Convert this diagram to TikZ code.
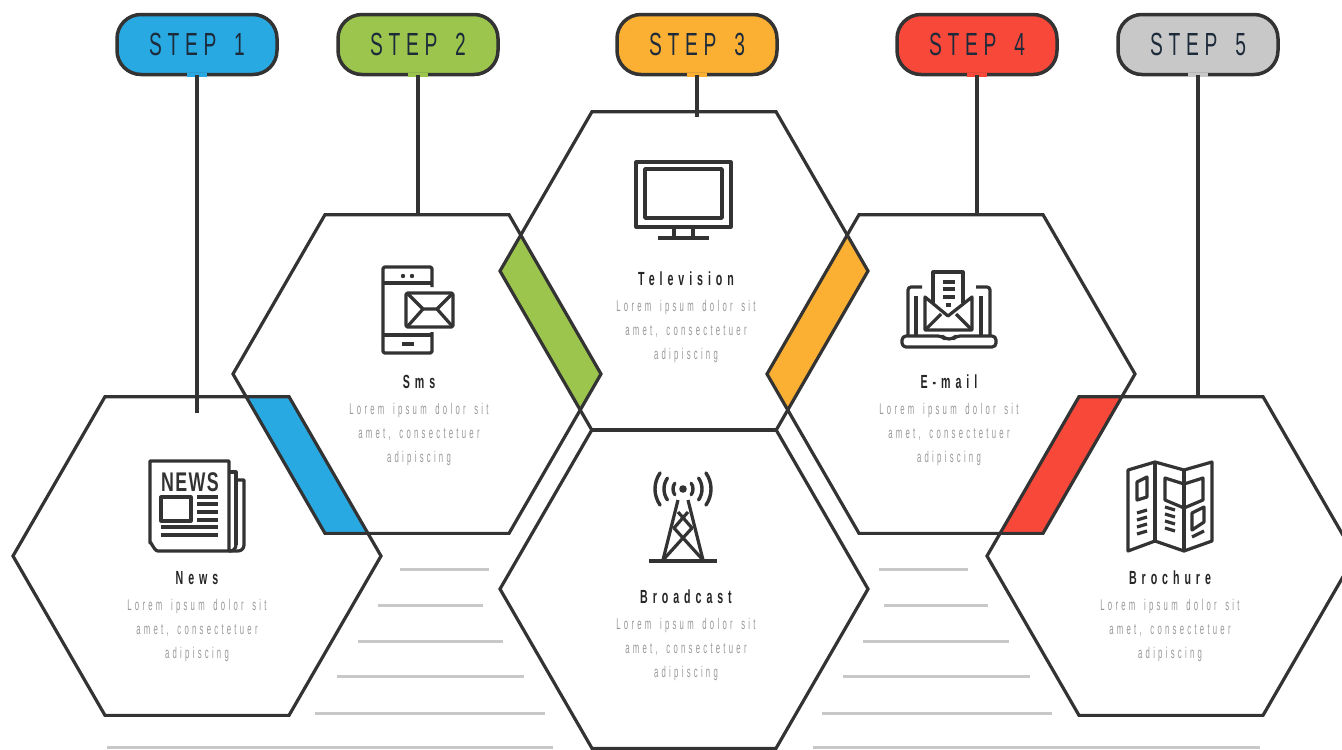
\documentclass[tikz,border=0pt]{standalone}
\usepackage{fontspec}
\usetikzlibrary{shapes.geometric}
\newfontfamily\stepfont[FakeStretch=0.6,LetterSpace=18,WordSpace=1.6]{Liberation Sans}
\newfontfamily\titlefont[FakeStretch=0.56,LetterSpace=26]{Liberation Sans Bold}
\newfontfamily\bodyfont[FakeStretch=0.5,LetterSpace=21,WordSpace=1.6]{Liberation Sans}
\newfontfamily\newsfont[FakeStretch=0.66,LetterSpace=5]{Liberation Sans Bold}
\definecolor{ink}{HTML}{333333}
\definecolor{cblue}{HTML}{29A9E1}
\definecolor{cgreen}{HTML}{9CC54E}
\definecolor{corange}{HTML}{FBB034}
\definecolor{cred}{HTML}{F8483A}
\definecolor{cgray}{HTML}{C8C8C8}
\definecolor{steptext}{HTML}{1C2A3A}
\tikzset{
  hex/.style={regular polygon,regular polygon sides=6,minimum size=368pt,inner sep=0pt,outer sep=0pt},
  hexline/.style={draw=ink,line width=3.2pt,line join=miter},
  pill/.style={draw=ink,line width=3.5pt,rounded corners=24pt,minimum width=160pt,minimum height=60pt,inner sep=0pt,outer sep=0pt,
     font=\stepfont\fontsize{32}{32}\selectfont,text=steptext},
  conn/.style={draw=ink,line width=3.5pt},
  rule/.style={draw=cgray,line width=3pt},
  ttl/.style={font=\titlefont\fontsize{19}{19}\selectfont,text=black!85},
  bod/.style={font=\bodyfont\fontsize{15.5}{15.5}\selectfont,text=black!40},
  ic/.style={draw=ink,line width=3.2pt,line join=round},
}
\newcommand{\hexoutline}[1]{\draw[hexline] (#1.corner 1) -- (#1.corner 2) -- (#1.corner 3) -- (#1.corner 4) -- (#1.corner 5) -- (#1.corner 6) -- cycle;}
\newcommand{\lens}[3]{\begin{scope}\clip (#2.corner 1) -- (#2.corner 2) -- (#2.corner 3) -- (#2.corner 4) -- (#2.corner 5) -- (#2.corner 6) -- cycle;
  \fill[#1] (#3.corner 1) -- (#3.corner 2) -- (#3.corner 3) -- (#3.corner 4) -- (#3.corner 5) -- (#3.corner 6) -- cycle;\end{scope}}
\newcommand{\textblock}[5]{%
  \node[ttl] (#1t) at (#2,#3) {#5};
  \node[bod] (#1a) at (#2,#4+28) {Lorem ipsum dolor sit};
  \node[bod] (#1b) at (#2,#4+52) {amet, consectetuer};
  \node[bod] (#1c) at (#2,#4+76) {adipiscing};}
\begin{document}
\begin{tikzpicture}[x=1pt,y=-1pt]
\clip (0,0) rectangle (1342,750);
\fill[white] (0,0) rectangle (1342,750);
% gray rules
\coordinate (l1a) at (400,569); \coordinate (l1b) at (489,569);
\coordinate (l2a) at (378,605); \coordinate (l2b) at (483,605);
\coordinate (l3a) at (358,641); \coordinate (l3b) at (503,641);
\coordinate (l4a) at (337,676); \coordinate (l4b) at (524,676);
\coordinate (l5a) at (315,713); \coordinate (l5b) at (545,713);
\coordinate (l6a) at (107,747); \coordinate (l6b) at (553,747);
\coordinate (r1a) at (879,569); \coordinate (r1b) at (968,569);
\coordinate (r2a) at (884,605); \coordinate (r2b) at (988,605);
\coordinate (r3a) at (863,641); \coordinate (r3b) at (1009,641);
\coordinate (r4a) at (843,676); \coordinate (r4b) at (1030,676);
\coordinate (r5a) at (822,713); \coordinate (r5b) at (1052,713);
\coordinate (r6a) at (813,747); \coordinate (r6b) at (1260,747);
\foreach \n in {l1,l2,l3,l4,l5,l6,r1,r2,r3,r4,r5,r6} \draw[rule] (\n a) -- (\n b);
% hexagons
\node[hex] (h1) at (197,556) {};
\node[hex] (h2) at (417,374) {};
\node[hex] (h3) at (684,271) {};
\node[hex] (h4) at (684,589) {};
\node[hex] (h5) at (951,374) {};
\node[hex] (h6) at (1171,556) {};
\lens{cblue}{h1}{h2}
\lens{cgreen}{h2}{h3}
\lens{corange}{h3}{h5}
\lens{cred}{h5}{h6}
\foreach \h in {h1,h2,h3,h4,h5,h6} {\hexoutline{\h}}
% pills
\node[pill,fill=cblue] (s1) at (197,44.5) {STEP 1};
\node[pill,fill=cgreen] (s2) at (418,44.5) {STEP 2};
\node[pill,fill=corange] (s3) at (697,44.5) {STEP 3};
\node[pill,fill=cred] (s4) at (977,44.5) {STEP 4};
\node[pill,fill=cgray] (s5) at (1198,44.5) {STEP 5};
% connector ends
\coordinate (e1) at (197,413);
\coordinate (e2) at (418,215);
\coordinate (e3) at (697,117);
\coordinate (e4) at (977,215);
\coordinate (e5) at (1198,397);
\draw[cblue,line width=4pt] ([xshift=-10pt]s1.south) -- ([xshift=10pt]s1.south);
\draw[cgreen,line width=4pt] ([xshift=-10pt]s2.south) -- ([xshift=10pt]s2.south);
\draw[corange,line width=4pt] ([xshift=-10pt]s3.south) -- ([xshift=10pt]s3.south);
\draw[cred,line width=4pt] ([xshift=-10pt]s4.south) -- ([xshift=10pt]s4.south);
\draw[cgray,line width=4pt] ([xshift=-10pt]s5.south) -- ([xshift=10pt]s5.south);
\foreach \i in {1,...,5} \draw[conn] (s\i.south) -- (e\i);
% labels
\textblock{n1}{197}{578}{578}{News}
\textblock{n2}{419}{382}{382}{Sms}
\textblock{n3}{686}{279}{279}{Television}
\textblock{n4}{686}{597}{597}{Broadcast}
\textblock{n5}{949}{382}{382}{E-mail}
\textblock{n6}{1170}{578}{578}{Brochure}
% news icon
\draw[ic] (229,551) -- (158,551) to[out=180,in=90] (150,543) -- (150,461) -- (229,461) -- (229,551);
\draw[ic] (229,472) -- (236,472) -- (236,545);
\draw[ic] (236,480) -- (244,480) -- (244,545) to[out=-90,in=0] (238,551) -- (229,551);
\draw[ic] (229,551) to[out=-10,in=-90] (236,545);
\node[inner sep=0pt,font=\newsfont\fontsize{27}{27}\selectfont,text=ink] (newsword) at (190,482) {NEWS};
\draw[ic] (161,497) rectangle (191,521);
\foreach \y in {497,504,512,520} \draw[ic] (197,\y) -- (218,\y);
\foreach \y in {527,535} \draw[ic] (161,\y) -- (218,\y);
% sms icon
\draw[ic,rounded corners=1.5pt] (432,287) -- (432,267) -- (383,267) -- (383,353) -- (432,353) -- (432,332);
\draw[ic] (383,283) -- (432,283);
\draw[ic] (383,335) -- (432,335);
\fill[ink] (403,276) circle (2.2pt) (412,276) circle (2.2pt);
\draw[ic] (402,344) -- (414,344);
\draw[ic,rounded corners=1.5pt] (406,293) rectangle (453,327);
\draw[ic] (407,293) -- (423,309) -- (437,309) -- (453,293);
\draw[ic] (407,327) -- (423,309) (437,309) -- (453,327);
% tv icon
\draw[ic] (636,162) rectangle (731,227);
\draw[ic,line width=3.8pt] (645,169) rectangle (722,218);
\draw[ic] (674,227) -- (674,238) (693,227) -- (693,238);
\draw[ic] (658,238) -- (709,238);
% tower icon
\fill[ink] (683,489) circle (3.8pt);
\foreach \r in {10,19,28} {
  \draw[ic,line width=3.4pt,line cap=round] (683,489) ++(35:\r) arc[start angle=35,end angle=-35,radius=\r];
}
\foreach \r in {10,19,28} {
  \draw[ic,line width=3.4pt,line cap=round] (683,489) ++(145:\r) arc[start angle=145,end angle=215,radius=\r];
}
\draw[ic] (678,500) -- (663,560) (688,500) -- (703,560);
\draw[ic] (663,560) -- (692,528) -- (678,512) (703,560) -- (674,528) -- (688,512);
\draw[ic] (649,561) -- (717,561);
% email icon
\draw[ic,rounded corners=4pt] (902,336) -- (942,336) -- (945,339) -- (953,339) -- (956,336) -- (996,336) -- (996,347) -- (902,347) -- cycle;
\draw[ic,rounded corners=3pt] (922,287) -- (908,287) -- (908,336);
\draw[ic] (916,296) -- (916,336);
\draw[ic,rounded corners=3pt] (976,287) -- (990,287) -- (990,336);
\draw[ic] (981,296) -- (981,336);
\draw[ic] (933,303) -- (933,272) -- (963,272) -- (963,303);
\foreach \y in {282,289,297} \draw[ic] (943,\y) -- (955,\y);
\draw[ic] (946,305) -- (951,305);
\draw[ic] (925,297) -- (925,330) -- (972,330) -- (972,297) -- (948,316) -- cycle;
\draw[ic] (925,330) -- (941,314) (972,330) -- (956,314);
% brochure icon
\draw[ic] (1128,470) -- (1155,462) -- (1184,470) -- (1212,462) -- (1212,541) -- (1184,551) -- (1155,541) -- (1128,551) -- cycle;
\draw[ic] (1155,462) -- (1155,541) (1184,470) -- (1184,551);
\draw[ic] (1137,482) -- (1147,477) -- (1147,497) -- (1137,500) -- cycle;
\foreach \y in {510,517,524,531} \draw[ic] (1137,\y+3) -- (1147,\y);
\draw[ic] (1165,478) -- (1184,484) -- (1203,478) -- (1203,500) -- (1184,508) -- (1165,500) -- cycle;
\foreach \y in {507,514,521,528} \draw[ic] (1165,\y) -- (1175,\y+3);
\draw[ic] (1192,513) -- (1204,507) -- (1204,522) -- (1192,530) -- cycle;
\draw[ic] (1192,537) -- (1204,531);
\end{tikzpicture}
\end{document}
